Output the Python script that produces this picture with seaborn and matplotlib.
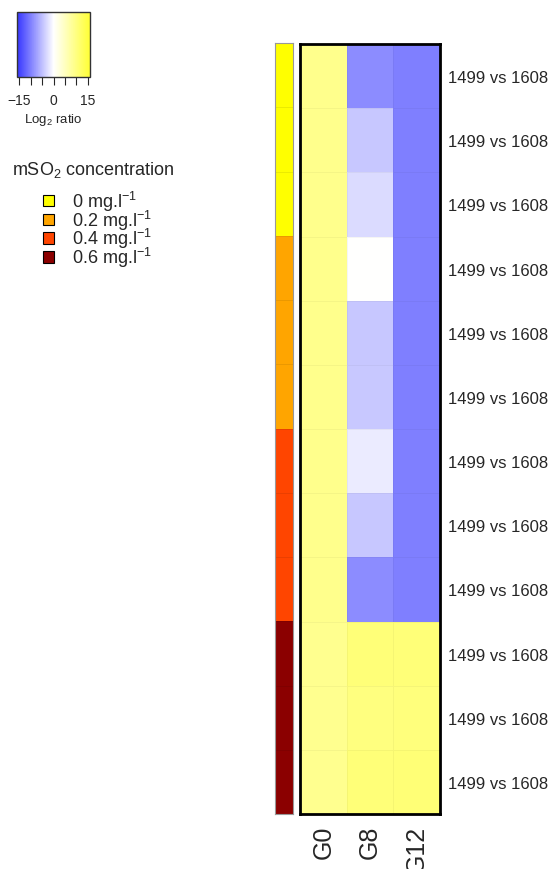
import matplotlib.pyplot as plt
import seaborn as sns
import numpy as np
import pandas as pd
from matplotlib.colors import LinearSegmentedColormap, ListedColormap
from matplotlib.patches import Patch

# columns of the heatmap and the row labels
conditions = ["G0", "G8", "G12"]
comparisons = ["1499 vs 1608"] * 12

# log2 ratios (rows top to bottom)
g0 = [9.1, 9.1, 9.1, 9.1, 9.1, 9.1, 9.1, 9.1, 9.1, 8.8, 8.8, 8.8]
g8 = [-9.1, -4.4, -2.8, 0.0, -4.4, -4.3, -1.6, -4.4, -9.1, 10.7, 10.1, 10.7]
g12 = [-10.1, -10.1, -10.1, -10.1, -10.1, -10.1, -10.1, -10.1, -10.1, 10.7, 10.3, 10.8]

# SO2 side bar
so2_levels = ["0 mg.l$^{-1}$", "0.2 mg.l$^{-1}$", "0.4 mg.l$^{-1}$", "0.6 mg.l$^{-1}$"]
so2_colors = ["#FFFF00", "#FFA500", "#FF4500", "#8B0000"]
row_level = [0, 0, 0, 1, 1, 1, 2, 2, 2, 3, 3, 3]

key_ticks = [-15, -10, -5, 0, 5, 10, 15]
key_labels = ["\u221215", "", "", "0", "", "", "15"]

sns.set_style("white")
plt.rcParams['font.family'] = ['Liberation Sans', 'DejaVu Sans']
plt.rcParams['mathtext.fontset'] = 'custom'
plt.rcParams['mathtext.rm'] = 'Liberation Sans'
plt.rcParams['mathtext.it'] = 'Liberation Sans:italic'

W, H = 552, 870
fig = plt.figure(figsize=(W / 100, H / 100), dpi=100)

def box(x0, y0, x1, y1):
    return [x0 / W, 1 - y1 / H, (x1 - x0) / W, (y1 - y0) / H]

ax = fig.add_axes(box(300, 45, 440, 815))
ax_side = fig.add_axes(box(275, 44, 293, 815))
cax = fig.add_axes(box(17, 13, 90, 78))

df = pd.DataFrame({"G0": g0, "G8": g8, "G12": g12})
cmap = LinearSegmentedColormap.from_list("bwy", ["#3535FF", "#FFFFFF", "#FFFF35"])

sns.heatmap(df, cmap=cmap, vmin=-16, vmax=16, ax=ax, cbar_ax=cax,
            cbar_kws={'orientation': 'horizontal', 'ticks': key_ticks},
            linewidths=0.4, linecolor=(0, 0, 0, 0.04),
            xticklabels=conditions, yticklabels=comparisons)

ax.yaxis.tick_right()
ax.tick_params(axis='y', length=0, pad=6, labelsize=12, labelrotation=0)
ax.tick_params(axis='x', length=0, pad=8, labelsize=18, labelrotation=90)
for s in ax.spines.values():
    s.set_visible(True)
    s.set_color("black")
    s.set_linewidth(2)

# colour key
cbar = ax.collections[0].colorbar
cbar.set_ticklabels(key_labels)
cbar.ax.tick_params(length=5.5, width=0.8, labelsize=10, pad=6)
cbar.set_label("Log$_2$ ratio", fontsize=9.5, labelpad=3)
cbar.outline.set_visible(True)
cbar.outline.set_linewidth(1)
cbar.outline.set_edgecolor("#333333")

# side colour bar
sns.heatmap(np.array(row_level)[:, None], cmap=ListedColormap(so2_colors),
            vmin=-0.5, vmax=3.5, cbar=False, ax=ax_side,
            linewidths=0.5, linecolor=(0, 0, 0, 0.08),
            xticklabels=False, yticklabels=False)
for s in ax_side.spines.values():
    s.set_visible(True)
    s.set_color("#999999")
    s.set_linewidth(0.8)

# legend
fig.text(12 / W, 1 - 170 / H, "mSO$_2$ concentration", fontsize=13, va='center', ha='left')
handles = [Patch(facecolor=c, edgecolor="black", linewidth=0.8) for c in so2_colors]
fig.legend(handles, so2_levels, loc='upper left', bbox_to_anchor=(43 / W, 1 - 190 / H),
           frameon=False, fontsize=13, handlelength=0.6, handleheight=0.6,
           handletextpad=1.0, labelspacing=-0.3, borderpad=0, borderaxespad=0)

fig.savefig("out.png", dpi=100)
plt.close(fig)
